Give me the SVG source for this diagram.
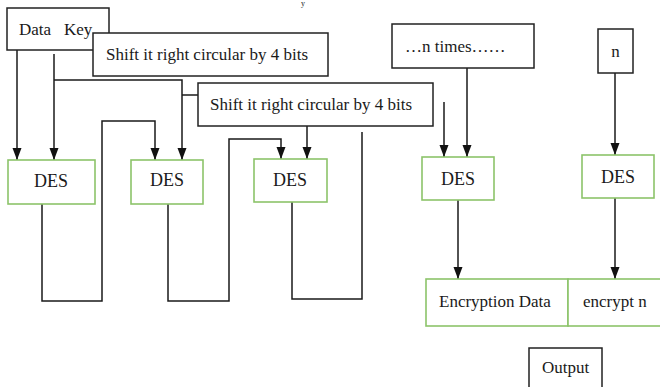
<svg xmlns="http://www.w3.org/2000/svg" width="660" height="387" viewBox="0 0 660 387">
<style>
  .box { fill: #ffffff; stroke: #222222; stroke-width: 1.5; }
  .des { fill: #ffffff; stroke: #8cc46a; stroke-width: 1.6; }
  .t { font-family: "Liberation Serif", "Times New Roman", serif; font-size: 17px; fill: #1a1a1a; }
  .d { font-family: "Liberation Serif", "Times New Roman", serif; font-size: 18px; fill: #1a1a1a; text-anchor: middle; }
  .c { fill: none; stroke: #1a1a1a; stroke-width: 1.5; }
</style>
<defs>
  <marker id="ah" markerUnits="userSpaceOnUse" markerWidth="12" markerHeight="10" refX="12" refY="4.5" orient="auto">
    <path d="M0,0 L12,4.5 L0,9 z" fill="#111111"/>
  </marker>
</defs>
<rect width="660" height="387" fill="#ffffff"/>
<text class="t" x="301" y="6" style="font-size:8px">y</text>

<g id="connectors">
  <path class="c" d="M17,50 V160" marker-end="url(#ah)"/>
  <path class="c" d="M54,54 V160" marker-end="url(#ah)"/>
  <path class="c" d="M54,80 H182 V160" marker-end="url(#ah)"/>
  <path class="c" d="M182,95 H198"/>
  <path class="c" d="M42,204 V301 H102 V121 H155 V160" marker-end="url(#ah)"/>
  <path class="c" d="M168,204 V301 H229 V139 H281 V159" marker-end="url(#ah)"/>
  <path class="c" d="M307,126 V159" marker-end="url(#ah)"/>
  <path class="c" d="M292,202 V299 H362 V132"/>
  <path class="c" d="M467,68 V157" marker-end="url(#ah)"/>
  <path class="c" d="M444,102 V157" marker-end="url(#ah)"/>
  <path class="c" d="M615,73 V155" marker-end="url(#ah)"/>
  <path class="c" d="M458,200 V279" marker-end="url(#ah)"/>
  <path class="c" d="M615,198 V279" marker-end="url(#ah)"/>
</g>

<g id="datakey">
  <rect class="box" x="7" y="8" width="102" height="42"/>
  <text class="t" x="19" y="35">Data</text>
  <text class="t" x="64" y="35">Key</text>
</g>
<g id="shift1">
  <rect class="box" x="93" y="33" width="235" height="43"/>
  <text class="t" x="106" y="60">Shift it right circular by 4 bits</text>
</g>
<g id="shift2">
  <rect class="box" x="198" y="83" width="235" height="43"/>
  <text class="t" x="210" y="110">Shift it right circular by 4 bits</text>
</g>
<g id="des1">
  <rect class="des" x="8" y="160" width="87" height="44"/>
  <text class="d" x="51" y="187">DES</text>
</g>
<g id="des2">
  <rect class="des" x="131" y="160" width="72" height="44"/>
  <text class="d" x="167" y="186">DES</text>
</g>
<g id="des3">
  <rect class="des" x="254" y="159" width="73" height="43"/>
  <text class="d" x="290" y="186">DES</text>
</g>
<g id="ntimes">
  <rect class="box" x="392" y="24" width="142" height="44"/>
  <text class="t" x="405" y="52">…n times……</text>
</g>
<g id="des4">
  <rect class="des" x="422" y="157" width="72" height="43"/>
  <text class="d" x="458" y="185">DES</text>
</g>
<g id="n">
  <rect class="box" x="598" y="29" width="35" height="44"/>
  <text class="t" x="615.5" y="57" text-anchor="middle">n</text>
</g>
<g id="des5">
  <rect class="des" x="582" y="155" width="72" height="43"/>
  <text class="d" x="618" y="183">DES</text>
</g>
<g id="encdata">
  <rect class="des" x="426" y="279" width="142" height="47"/>
  <text class="t" x="439" y="307">Encryption Data</text>
</g>
<g id="encn">
  <rect class="des" x="568" y="279" width="96" height="47"/>
  <text class="t" x="583" y="307">encrypt n</text>
</g>
<g id="output">
  <rect class="box" x="529" y="348" width="73" height="45"/>
  <text class="t" x="542" y="373">Output</text>
</g>
</svg>
